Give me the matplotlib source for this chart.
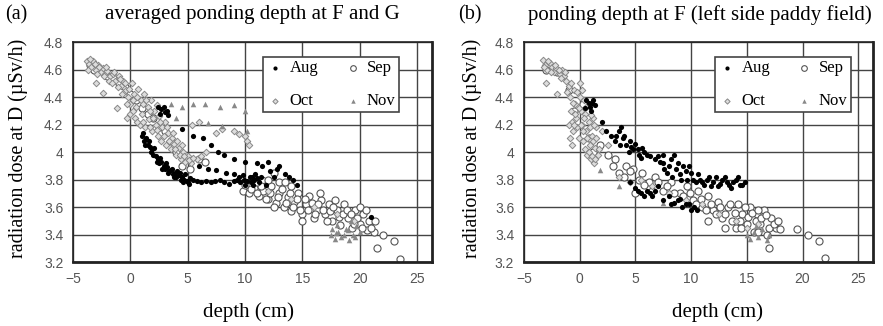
import numpy as np
import matplotlib
matplotlib.use('Agg')
import matplotlib.pyplot as plt

# (depth cm, dose uSv/h)
aug_a = [(1.0,4.12),(1.2,4.08),(1.4,4.10),(1.5,4.05),(1.7,4.04),(1.9,4.02),(2.0,3.98),(2.2,3.97),(2.4,3.95),
         (2.5,3.92),(2.7,3.93),(2.9,3.90),(3.0,3.88),(3.2,3.89),(3.4,3.86),(3.5,3.87),(3.7,3.84),(3.9,3.85),
         (4.0,3.82),(4.2,3.83),(4.4,3.80),(4.5,3.82),(4.7,3.80),(4.9,3.79),(5.0,3.78),(5.2,3.81),(5.5,3.80),
         (5.8,3.79),(6.2,3.78),(6.6,3.79),(7.0,3.78),(7.4,3.79),(7.8,3.80),(8.2,3.78),(8.6,3.77),(9.0,3.79),
         (9.3,3.80),(9.6,3.78),(9.9,3.80),(10.2,3.79),(10.5,3.78),(10.8,3.80),(11.0,3.81),
         (2.4,4.33),(2.7,4.31),(3.0,4.29),(3.2,4.30),(4.5,4.17),(5.5,4.12),(6.3,4.10),(7.0,4.05),(7.6,4.00),
         (8.2,3.98),(9.0,3.95),(10.0,3.93),(11.0,3.92),(6.0,3.90),(6.8,3.88),(7.5,3.87),(8.3,3.85),(9.0,3.84),
         (9.8,3.83),(10.6,3.82),(11.5,3.90),(12.0,3.93),(12.2,3.86),(12.5,3.82),(12.8,3.88),(13.0,3.90),
         (13.5,3.84),(13.8,3.82),(14.2,3.80),(14.5,3.76),(11.8,3.76),(21.0,3.53),
         (1.1,4.14),(1.3,4.05),(1.6,4.08),(1.8,4.00),(2.1,4.03),(2.3,3.93),(2.6,3.96),(2.8,3.88),(3.1,3.92),
         (3.3,3.85),(3.6,3.88),(3.8,3.82),(4.1,3.86),(4.3,3.85),(4.6,3.78),(4.8,3.84),(5.1,3.77),(9.5,3.82),
         (10.0,3.76),(10.4,3.82),(10.7,3.76),(11.2,3.78),(10.9,3.84),(11.4,3.82),(2.6,4.28),(2.9,4.33),
         (3.3,4.27)]
sep_a = [(-3.5,4.63),(-2.5,4.60),(-1.5,4.54),(-0.5,4.47),(0.5,4.38),(1.5,4.28),(2.5,4.18),(3.5,4.08),
         (4.5,3.90),(5.2,3.88),(6.0,3.95),(6.5,3.93),
         (9.8,3.72),(10.3,3.70),(10.8,3.74),(11.2,3.68),(11.6,3.72),(12.0,3.66),(12.3,3.75),(12.7,3.63),
         (13.0,3.70),(13.4,3.60),(13.7,3.67),(14.0,3.57),(14.3,3.64),(14.6,3.70),(15.0,3.55),(15.3,3.62),
         (15.6,3.68),(16.0,3.52),(16.3,3.58),(16.6,3.65),(17.0,3.55),(17.3,3.62),(17.6,3.50),(18.0,3.58),
         (18.3,3.47),(18.6,3.62),(19.0,3.52),(19.3,3.45),(19.6,3.58),(20.0,3.48),(20.3,3.55),(20.6,3.43),
         (21.0,3.50),(21.2,3.42),(21.5,3.30),(22.0,3.40),(23.0,3.35),(23.5,3.22),(15.0,3.50),(16.5,3.70),
         (17.8,3.65),(20.0,3.60),(13.0,3.78),(11.5,3.80),
         (10.0,3.76),(10.5,3.73),(11.0,3.70),(11.4,3.75),(11.8,3.66),(12.2,3.70),(12.5,3.60),(12.9,3.67),
         (13.2,3.73),(13.6,3.63),(13.9,3.70),(14.2,3.60),(14.5,3.66),(14.8,3.58),(15.2,3.66),(15.5,3.58),
         (15.8,3.63),(16.1,3.55),(16.4,3.62),(16.8,3.58),(17.1,3.50),(17.4,3.57),(17.7,3.60),(18.2,3.53),
         (18.5,3.55),(18.9,3.58),(19.2,3.55),(19.5,3.48),(19.8,3.52),(20.2,3.45),(20.5,3.58),(20.8,3.50),
         (21.0,3.45),(21.3,3.50),(12.0,3.80),(12.5,3.85),(13.5,3.78),(14.0,3.75),(11.0,3.78),
         (-3.2,4.60),(-2.0,4.55),(-1.0,4.50),(0.0,4.42),(1.0,4.32),(2.0,4.25),(3.0,4.15),(4.0,4.00)]
oct_a = [(-3.8,4.66),(-3.6,4.64),(-3.4,4.62),(-3.3,4.66),(-3.0,4.60),(-2.8,4.63),(-2.6,4.58),(-2.4,4.61),
         (-2.2,4.57),(-2.0,4.59),(-1.8,4.55),(-1.5,4.57),(-1.3,4.52),(-1.0,4.55),(-0.8,4.48),(-0.6,4.52),
         (-0.4,4.45),(-0.2,4.40),(0.0,4.35),(0.0,4.28),(0.1,4.50),(0.3,4.42),(0.4,4.25),(0.5,4.33),
         (0.7,4.46),(0.8,4.20),(0.9,4.38),(1.0,4.28),(1.2,4.42),(1.3,4.18),(1.5,4.33),(1.6,4.24),(1.8,4.38),
         (1.9,4.15),(2.1,4.30),(2.2,4.20),(2.4,4.12),(2.5,4.26),(2.7,4.08),(2.8,4.18),(3.0,4.22),(3.1,4.05),
         (3.3,4.14),(3.5,4.02),(3.6,4.10),(3.8,4.06),(4.0,3.98),(4.2,4.03),(4.4,3.95),(4.6,4.00),(4.8,3.93),
         (5.0,3.97),(5.3,3.92),(5.8,3.95),(6.2,3.97),(6.6,4.00),(-3.0,4.50),(-2.4,4.43),(-1.2,4.32),
         (-0.3,4.25),(7.5,4.14),(8.0,4.17),(9.0,4.15),(9.5,4.13),(10.0,4.12),(10.2,4.08),(10.3,4.05),
         (6.0,4.22),(5.4,4.20),(12.0,3.72),(14.0,3.66),(16.0,3.60),(18.0,3.55),(19.5,3.50),
         (-3.7,4.60),(-3.5,4.68),(-3.1,4.64),(-2.9,4.57),(-2.7,4.62),(-2.3,4.55),(-2.1,4.62),(-1.9,4.52),
         (-1.6,4.50),(-1.4,4.58),(-1.1,4.47),(-0.9,4.53),(-0.7,4.42),(-0.5,4.50),(-0.3,4.35),(-0.1,4.46),
         (0.2,4.38),(0.2,4.30),(0.6,4.40),(0.6,4.22),(1.1,4.35),(1.1,4.22),(1.4,4.38),(1.7,4.30),(1.7,4.18),
         (2.0,4.25),(2.3,4.34),(2.3,4.16),(2.6,4.22),(2.9,4.12),(3.2,4.18),(3.4,4.08),(3.7,4.14),(3.9,4.02),
         (4.1,4.08),(4.3,3.98),(4.5,4.05),(4.7,3.97),(5.1,3.94),(5.5,3.96)]
nov_a = [(3.5,4.35),(4.5,4.33),(5.5,4.35),(6.5,4.35),(7.8,4.33),(9.0,4.34),(10.0,4.30),(4.0,4.25),
         (6.8,4.21),(8.0,4.19),(10.2,4.15),(17.5,3.40),(17.8,3.37),(18.1,3.42),(18.4,3.38),(18.8,3.44),
         (19.1,3.36),(19.4,3.40),(19.7,3.46),(18.0,3.47),(17.6,3.44),(19.2,3.50),
         (17.9,3.41),(18.6,3.40),(19.0,3.43),(19.6,3.38),(20.0,3.42)]

aug_b = [(0.5,4.32),(0.8,4.36),(1.0,4.30),(1.2,4.38),(1.4,4.34),(2.0,4.22),(2.4,4.15),(2.8,4.12),(3.2,4.08),
         (3.5,4.15),(3.7,4.18),(3.9,4.10),(4.2,4.05),(4.5,4.08),(4.8,4.02),(5.0,4.06),(5.3,3.98),(5.6,4.03),
         (6.0,3.98),(6.3,3.97),(7.0,3.97),(7.5,3.92),(7.8,3.85),(8.0,3.90),(8.3,3.82),(8.6,3.88),(9.0,3.84),
         (9.3,3.90),(9.6,3.80),(10.0,3.85),(10.4,3.78),(10.8,3.80),(11.2,3.76),(11.6,3.82),(12.0,3.78),
         (12.4,3.75),(12.8,3.80),(13.2,3.78),(13.6,3.74),(14.0,3.80),(14.4,3.76),(14.8,3.78),
         (4.5,3.78),(5.0,3.74),(5.5,3.70),(6.0,3.72),(6.5,3.68),(7.0,3.75),(7.5,3.65),(8.0,3.68),(8.5,3.63),
         (9.0,3.66),(9.5,3.62),(10.0,3.58),(10.3,3.60),(7.5,3.98),(8.5,3.98),
         (0.6,4.38),(0.9,4.33),(1.1,4.36),(3.3,4.12),(3.6,4.05),(4.0,4.12),(4.4,4.00),(4.6,4.04),(5.2,4.02),
         (5.5,3.96),(5.8,4.00),(7.2,3.93),(7.6,3.88),(8.2,3.95),(8.8,3.92),(9.1,3.80),(9.5,3.86),(9.8,3.90),
         (10.2,3.80),(10.6,3.84),(11.0,3.78),(11.4,3.80),(11.8,3.75),(12.2,3.82),(12.6,3.77),(13.0,3.82),
         (13.4,3.76),(13.8,3.78),(14.2,3.82),(14.6,3.76),(5.2,3.72),(5.8,3.68),(6.3,3.70),(6.8,3.72),
         (8.2,3.62),(8.8,3.65),(9.2,3.60),(9.8,3.62),(10.5,3.58),(6.8,3.95)]
sep_b = [(-3.0,4.60),(-2.0,4.58),(-1.0,4.45),(-0.5,4.30),(0.3,4.35),(0.8,4.10),(1.2,4.00),(1.8,4.05),
         (2.5,3.98),(3.2,3.95),(4.2,3.90),(4.8,3.88),(5.6,3.85),(6.2,3.78),(6.8,3.82),(7.5,3.72),(8.2,3.78),
         (9.0,3.70),(9.6,3.75),(10.2,3.65),(10.6,3.72),(11.0,3.60),(11.5,3.68),(11.5,3.50),(12.0,3.58),
         (12.4,3.64),(12.8,3.52),(13.0,3.45),(13.3,3.60),(13.7,3.50),(14.0,3.45),(14.2,3.62),(14.6,3.55),
         (15.0,3.48),(15.3,3.60),(15.6,3.42),(15.9,3.55),(16.2,3.48),(16.5,3.58),(16.8,3.40),(17.0,3.30),
         (17.2,3.52),(17.6,3.45),(18.0,3.44),(19.5,3.44),(20.5,3.40),(21.5,3.35),(22.0,3.23),(5.0,3.70),
         (3.0,3.90),
         (3.5,3.85),(4.0,3.82),(4.5,3.86),(5.3,3.80),(5.8,3.76),(6.5,3.72),(7.0,3.78),(7.8,3.75),(8.5,3.70),
         (9.3,3.68),(9.9,3.70),(10.4,3.62),(10.9,3.66),(11.3,3.58),(11.8,3.62),(12.2,3.55),(12.6,3.60),
         (13.0,3.55),(13.5,3.62),(13.9,3.56),(14.4,3.50),(14.8,3.60),(15.1,3.53),(15.5,3.56),(15.8,3.50),
         (16.0,3.58),(16.3,3.52),(16.7,3.54),(17.0,3.45),(17.4,3.48),(17.8,3.50),(14.5,3.45),(16.0,3.42)]
oct_b = [(-3.3,4.67),(-3.1,4.63),(-2.9,4.60),(-2.7,4.65),(-2.5,4.62),(-2.3,4.58),(-2.1,4.61),(-1.8,4.57),
         (-1.6,4.60),(-1.4,4.55),(-1.2,4.52),(-1.0,4.48),(-0.9,4.40),(-0.8,4.30),(-0.7,4.22),(-0.6,4.15),
         (-0.5,4.45),(-0.4,4.35),(-0.3,4.25),(-0.2,4.18),(-0.1,4.10),(0.0,4.50),(0.0,4.40),(0.1,4.30),
         (0.2,4.20),(0.3,4.08),(0.4,4.38),(0.5,4.02),(0.5,4.28),(0.6,4.15),(0.7,3.98),(0.8,4.22),(0.9,4.05),
         (1.0,3.95),(1.1,4.12),(1.2,4.25),(1.3,3.92),(1.4,4.03),(1.5,4.18),(1.6,3.98),(-0.9,4.10),(-1.0,4.20),
         (-3.0,4.50),(-2.0,4.42),(2.0,4.15),(2.5,4.05),(3.5,3.82),(4.5,3.78),(5.5,3.80),(6.5,3.75),
         (8.0,3.70),(9.5,3.65),(11.0,3.62),(12.5,3.55),(14.0,3.50),(15.0,3.45),(16.0,3.48),
         (-3.2,4.62),(-2.8,4.66),(-2.6,4.58),(-2.2,4.63),(-1.9,4.60),(-1.7,4.54),(-1.3,4.58),(-1.1,4.44),
         (-0.8,4.50),(-0.6,4.36),(-0.4,4.28),(-0.2,4.44),(-0.1,4.32),(0.1,4.20),(0.2,4.45),(0.3,4.15),
         (0.4,4.25),(0.6,4.33),(0.7,4.10),(0.8,4.00),(0.9,4.18),(1.0,4.27),(1.1,3.97),(1.2,4.08),(1.3,4.20),
         (1.4,3.95),(1.5,4.10),(1.7,4.02),(-0.7,4.05),(-0.5,4.20)]
nov_b = [(1.8,3.87),(3.5,3.75),(7.5,3.63),(15.0,3.40),(15.3,3.37),(15.6,3.42),(16.0,3.38),(16.4,3.44),
         (16.8,3.36),(17.0,3.40),(15.8,3.46)]

months = ['Aug', 'Sep', 'Oct', 'Nov']
titles = ['averaged ponding depth at F and G', 'ponding depth at F (left side paddy field)']
tags = ['(a)', '(b)']

serif = 'Liberation Serif'
sans = 'Liberation Sans'

styles = {
    'Aug': dict(marker='o', s=14, c='black', linewidths=0),
    'Sep': dict(marker='o', s=26, facecolors='white', edgecolors='#555555', linewidths=0.8),
    'Oct': dict(marker='D', s=11, facecolors='#dddddd', edgecolors='#888888', linewidths=0.7),
    'Nov': dict(marker='^', s=16, c='#888888', linewidths=0),
}

fig = plt.figure(figsize=(8.83, 3.26), dpi=100)
axa = fig.add_axes([0.0827, 0.196, 0.4066, 0.675])
axb = fig.add_axes([0.5934, 0.196, 0.395, 0.675])

panels = [(axa, [aug_a, sep_a, oct_a, nov_a], (0.529, 0.932)),
          (axb, [aug_b, sep_b, oct_b, nov_b], (0.547, 0.932))]

for ax, series, legpos in panels:
    ax.set_axisbelow(True)
    ax.grid(True, color='#444444', lw=1.0)
    # Sep first so the others sit on top
    for name in ['Sep', 'Oct', 'Nov', 'Aug']:
        pts = np.array(series[months.index(name)])
        ax.scatter(pts[:, 0], pts[:, 1], label=name, **styles[name])
    ax.set_xlim(-5, 26.3)
    ax.set_ylim(3.2, 4.8)
    ax.set_xticks([-5, 0, 5, 10, 15, 20, 25])
    ax.set_yticks([3.2, 3.4, 3.6, 3.8, 4.0, 4.2, 4.4, 4.6, 4.8])
    ax.set_yticklabels(['3.2', '3.4', '3.6', '3.8', '4', '4.2', '4.4', '4.6', '4.8'])
    ax.tick_params(length=0, pad=7, labelsize=10, labelcolor='#555555')
    for lab in ax.get_xticklabels() + ax.get_yticklabels():
        lab.set_family(sans)
    for sp in ax.spines.values():
        sp.set_color('#222222')
        sp.set_linewidth(1.2)
    ax.spines['right'].set_linewidth(2)
    ax.spines['bottom'].set_linewidth(2)
    h, l = ax.get_legend_handles_labels()
    # ncol=2 fills by column: Aug/Oct then Sep/Nov
    order = [l.index(m) for m in ['Aug', 'Oct', 'Sep', 'Nov']]
    leg = ax.legend([h[i] for i in order], [l[i] for i in order], ncol=2, loc='upper left',
                    bbox_to_anchor=legpos, prop={'family': serif, 'size': 12}, fancybox=False,
                    edgecolor='#444444', framealpha=1, handletextpad=0.3, columnspacing=1.5,
                    borderpad=0.2, borderaxespad=0, labelspacing=1.0, markerscale=0.8,
                    handlelength=1.1)
    leg.get_frame().set_linewidth(1.2)

for i, (cx, lx) in enumerate([(0.286, 0.006), (0.793, 0.519)]):
    fig.text(lx, 0.955, tags[i], family=serif, size=14.5, va='center')
    fig.text(cx, 0.955, titles[i], family=serif, size=15, ha='center', va='center')
    xoff = 0.281 if i == 0 else 0.813
    fig.text(xoff, 0.043, 'depth (cm)', family=serif, size=15, ha='center', va='center')
    ylx = 0.021 if i == 0 else 0.535
    fig.text(ylx, 0.545, 'radiation dose at D (\u00b5Sv/h)', family=serif, size=14.5,
             rotation=90, ha='center', va='center')

fig.savefig('out.png', dpi=100)
